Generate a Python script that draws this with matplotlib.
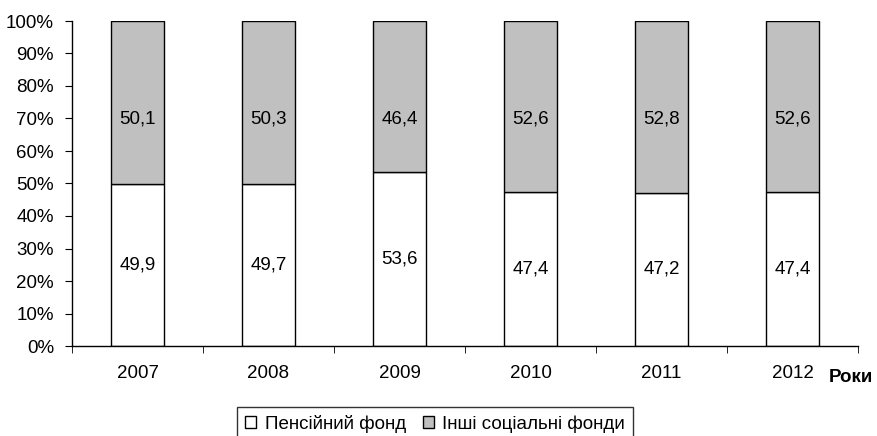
import matplotlib.pyplot as plt
import numpy as np

plt.rcParams['font.family'] = ['Liberation Sans', 'DejaVu Sans']

years = ['2007', '2008', '2009', '2010', '2011', '2012']
pension = [49.9, 49.7, 53.6, 47.4, 47.2, 47.4]
other = [50.1, 50.3, 46.4, 52.6, 52.8, 52.6]

fs = 13.5

fig = plt.figure(figsize=(8.77, 4.36), dpi=100)
ax = fig.add_axes([72 / 877, 90 / 436, 786 / 877, 325 / 436])

x = np.arange(len(years))
b1 = ax.bar(x, pension, width=0.4, color='white', edgecolor='black', linewidth=1,
            label='Пенсійний фонд')
b2 = ax.bar(x, other, width=0.4, bottom=pension, color='#c0c0c0', edgecolor='black',
            linewidth=1, label='Інші соціальні фонди')

ax.bar_label(b1, labels=[f'{v:.1f}'.replace('.', ',') for v in pension],
             label_type='center', fontsize=fs)
for xi, v in zip(x, other):
    ax.text(xi, 70, f'{v:.1f}'.replace('.', ','), ha='center', va='center', fontsize=fs)

ax.set_xlim(-0.5, len(years) - 0.5)
ax.set_ylim(0, 100)
ax.set_yticks(np.arange(0, 101, 10))
ax.set_yticklabels([f'{t}%' for t in range(0, 101, 10)], fontsize=fs)
ax.set_xticks(x)
ax.set_xticklabels(years, fontsize=fs)
ax.tick_params(axis='x', length=0, pad=14)
ax.set_xticks(np.arange(-0.5, len(years)), minor=True)
ax.tick_params(axis='x', which='minor', length=5, direction='out', color='black')
ax.tick_params(axis='y', length=5, direction='out', pad=8)

for s in ['top', 'right']:
    ax.spines[s].set_visible(False)
ax.spines['left'].set_linewidth(1)
ax.spines['bottom'].set_linewidth(1)

fig.text(851 / 877, 1 - 377 / 436, 'Роки', ha='center', va='center',
         fontsize=fs, fontweight='bold')

leg = fig.legend(loc='upper center', bbox_to_anchor=(435 / 877, 1 - 407 / 436), ncol=2,
                 fontsize=fs, frameon=True, fancybox=False, edgecolor='black',
                 handlelength=0.6, handleheight=0.6, handletextpad=0.45,
                 columnspacing=0.9, borderpad=0.4, borderaxespad=0)
leg.get_frame().set_linewidth(1)

fig.savefig('out.png', dpi=100)
